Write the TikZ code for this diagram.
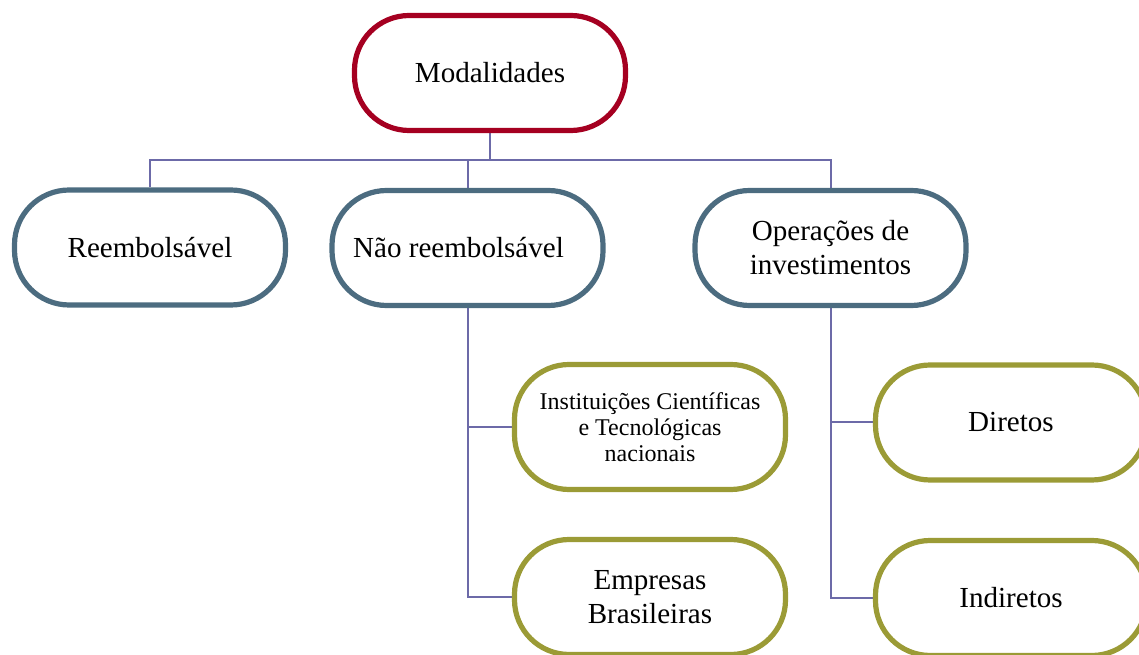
\documentclass[tikz,border=0pt]{standalone}
\usepackage{fontspec}
\setmainfont{Liberation Serif}
\usetikzlibrary{backgrounds}
\definecolor{topred}{HTML}{A50021}
\definecolor{midblue}{HTML}{4C6C80}
\definecolor{leafolive}{HTML}{9B9B36}
\definecolor{linkblue}{HTML}{6C6AA8}
\tikzset{
  pill/.style={draw, fill=white, line width=3.9pt, rounded corners=41pt,
    minimum width=203.25pt, minimum height=86.25pt, inner sep=0pt,
    align=center, font=\fontsize{21.8}{25.5}\selectfont},
  toppill/.style={pill, draw=topred},
  midpill/.style={pill, draw=midblue},
  leafpill/.style={pill, draw=leafolive},
  link/.style={draw=linkblue, line width=1.5pt}
}
\begin{document}
\begin{tikzpicture}[x=0.75pt,y=-0.75pt]
\useasboundingbox (0,0) rectangle (1139,655);

\node[toppill] (mod) at (490,73) {Modalidades};

\node[midpill] (reemb) at (150,247.5) {Reembolsável};
\node[midpill] (nao) at (467.5,248) {\hspace*{-13.5pt}Não reembolsável};
\node[midpill] (oper) at (830.5,248) {Operações de\\investimentos};

\node[leafpill, minimum height=93.75pt, font=\fontsize{18}{19.5}\selectfont]
  (inst) at (650,427) {Instituições Científicas\\e Tecnológicas\\nacionais};
\node[leafpill] (emp) at (650,597) {Empresas\\Brasileiras};
\node[leafpill] (dir) at (1011,422.5) {Diretos};
\node[leafpill] (ind) at (1011,598) {Indiretos};

\coordinate (bus) at (490,160);

\begin{scope}[on background layer]
  \draw[link] (mod.south) -- (bus);
  \draw[link] (reemb.north) |- (bus) -| (oper.north);
  \draw[link] (nao.north) -- (nao.north |- bus);
  \draw[link] (nao.south) |- (inst.west);
  \draw[link] (nao.south) |- (emp.west);
  \draw[link] (oper.south) |- (dir.west);
  \draw[link] (oper.south) |- (ind.west);
\end{scope}
\end{tikzpicture}
\end{document}
